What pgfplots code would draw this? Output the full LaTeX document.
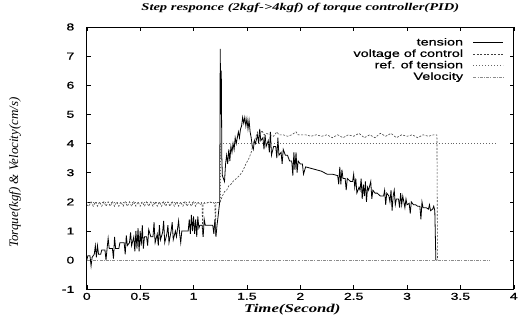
\documentclass[border=0pt]{standalone}
\usepackage{pgfplots}
\pgfplotsset{compat=1.18}
\usepackage{fontspec}
\setmainfont[FakeStretch=1.4]{Liberation Serif}
\setsansfont[FakeStretch=1.4,FakeBold=0.8]{Liberation Sans}
\newfontfamily\ylabfont{Liberation Serif}

\pgfplotstableread{
t v
0.00 0.00
0.01 0.15
0.03 0.15
0.04 -0.20
0.05 0.10
0.07 0.20
0.08 0.50
0.09 0.10
0.10 0.50
0.11 0.20
0.13 0.20
0.14 0.35
0.17 0.35
0.18 0.00
0.19 0.40
0.20 0.75
0.21 0.40
0.24 0.40
0.25 0.05
0.26 0.80
0.27 0.40
0.30 0.40
0.31 0.60
0.35 0.60
0.36 0.20
0.37 0.85
0.38 0.50
0.40 0.60
0.41 0.95
0.42 0.50
0.44 0.80
0.45 0.30
0.46 1.00
0.47 0.40
0.48 1.10
0.49 0.30
0.50 1.00
0.51 0.50
0.52 1.20
0.53 0.40
0.54 0.80
0.56 0.80
0.57 0.50
0.58 1.05
0.60 0.80
0.62 0.80
0.63 1.30
0.64 0.60
0.66 0.90
0.67 0.50
0.68 1.20
0.69 0.70
0.71 0.95
0.72 1.35
0.73 0.60
0.75 0.90
0.76 1.20
0.77 0.60
0.79 1.00
0.80 1.30
0.81 0.70
0.83 1.00
0.84 0.80
0.86 1.35
0.87 0.90
0.88 0.60
0.89 1.00
0.95 1.00
0.96 1.40
0.97 0.90
0.98 1.55
0.99 1.00
1.00 1.50
1.01 0.90
1.02 1.40
1.03 0.80
1.04 1.50
1.05 1.10
1.06 1.20
1.08 1.20
1.09 0.80
1.10 1.40
1.11 1.20
1.18 1.20
1.19 0.90
1.20 1.40
1.21 0.80
1.22 1.20
1.23 1.50
1.245 2.00
1.25 7.25
1.255 5.00
1.26 6.50
1.265 3.50
1.27 2.90
1.29 2.70
1.30 3.30
1.31 3.60
1.32 3.30
1.33 3.80
1.34 3.40
1.35 3.90
1.36 3.70
1.37 4.00
1.38 3.80
1.39 4.20
1.40 4.00
1.42 4.40
1.43 4.20
1.44 4.50
1.45 4.60
1.46 4.90
1.47 4.70
1.48 4.90
1.49 4.60
1.50 4.85
1.51 4.50
1.52 4.80
1.53 4.40
1.54 4.20
1.55 3.90
1.56 3.80
1.57 4.10
1.58 4.00
1.60 4.30
1.61 4.00
1.62 4.50
1.63 4.10
1.65 4.20
1.66 3.80
1.67 4.30
1.68 3.90
1.70 4.10
1.71 3.70
1.72 4.40
1.73 3.60
1.75 3.90
1.77 3.90
1.78 3.50
1.79 4.20
1.80 3.60
1.82 3.70
1.83 3.30
1.84 3.80
1.86 3.60
1.88 3.60
1.90 3.40
1.92 3.40
1.93 2.90
1.94 3.70
1.95 3.10
1.96 3.70
1.97 3.00
1.98 3.40
2.00 3.30
2.02 3.30
2.03 2.95
2.05 3.20
2.10 3.15
2.15 3.10
2.20 3.05
2.25 2.95
2.30 2.95
2.35 2.90
2.36 2.60
2.37 3.20
2.38 2.60
2.39 3.10
2.40 2.80
2.42 2.80
2.43 2.40
2.44 2.80
2.47 2.70
2.49 2.70
2.50 2.95
2.51 2.50
2.52 2.80
2.53 2.30
2.55 2.50
2.56 2.40
2.57 2.80
2.58 2.10
2.59 2.60
2.60 2.20
2.61 2.70
2.62 2.00
2.63 2.50
2.64 2.40
2.66 2.70
2.67 2.10
2.68 2.40
2.70 2.30
2.72 2.30
2.75 2.20
2.78 2.20
2.79 2.40
2.80 1.90
2.81 2.30
2.83 2.20
2.84 2.00
2.85 2.40
2.86 1.70
2.87 2.20
2.88 2.40
2.89 1.90
2.90 2.10
2.92 2.10
2.93 1.80
2.94 2.30
2.95 1.90
2.96 2.20
2.98 1.80
2.99 2.10
3.00 1.90
3.02 1.95
3.03 1.60
3.04 2.00
3.06 1.90
3.08 1.90
3.10 1.85
3.12 1.85
3.13 1.40
3.14 2.00
3.15 1.80
3.18 1.80
3.20 1.75
3.21 1.90
3.22 1.70
3.24 1.75
3.25 1.85
3.26 1.70
3.27 0.00
}\tension

\pgfplotstableread{
t v
0.00 1.90
0.02 1.85
0.04 2.00
0.06 1.85
0.08 2.00
0.10 1.85
0.12 2.00
0.14 1.85
0.16 2.00
0.18 1.85
0.20 2.00
0.22 1.85
0.24 2.00
0.26 1.85
0.28 2.00
0.30 1.85
0.32 2.00
0.34 1.85
0.36 2.00
0.38 1.85
0.40 2.00
0.42 1.85
0.44 2.00
0.46 1.85
0.48 2.00
0.50 1.85
0.52 2.00
0.54 1.85
0.56 2.00
0.58 1.85
0.60 2.00
0.62 1.85
0.64 2.00
0.66 1.85
0.68 2.00
0.70 1.85
0.72 2.00
0.74 1.85
0.76 2.00
0.78 1.85
0.80 2.00
0.82 1.85
0.84 2.00
0.86 1.85
0.88 2.00
0.90 1.85
0.92 2.00
0.94 1.85
0.96 2.00
0.98 1.85
1.00 2.00
1.02 1.85
1.04 2.00
1.06 1.90
1.08 1.95
1.085 0.85
1.09 1.95
1.12 1.95
1.15 2.00
1.20 1.95
1.205 0.85
1.21 1.95
1.24 2.00
1.25 2.00
1.27 2.20
1.29 2.35
1.31 2.40
1.33 2.55
1.35 2.60
1.37 2.70
1.40 2.80
1.43 2.90
1.46 3.05
1.49 3.30
1.52 3.50
1.54 3.70
1.56 4.00
1.58 4.20
1.60 4.40
1.62 4.30
1.64 4.45
1.66 4.30
1.68 4.35
1.72 4.30
1.75 4.25
1.78 4.40
1.80 4.30
1.84 4.30
1.88 4.25
1.92 4.30
1.96 4.40
1.98 4.30
2.05 4.30
2.10 4.25
2.15 4.30
2.20 4.25
2.25 4.30
2.30 4.20
2.35 4.30
2.40 4.20
2.45 4.30
2.50 4.25
2.55 4.35
2.60 4.20
2.65 4.30
2.70 4.20
2.75 4.35
2.80 4.25
2.85 4.35
2.90 4.20
2.95 4.30
3.00 4.25
3.05 4.30
3.10 4.20
3.15 4.30
3.20 4.25
3.25 4.30
3.28 4.30
3.285 0.00
}\voltage

\pgfplotstableread{
t v
0.00 2.00
1.25 2.00
1.25 4.00
3.85 4.00
}\reftension

\pgfplotstableread{
t v
0.00 0.00
3.78 0.00
}\velocity

\begin{document}
\begin{tikzpicture}
\begin{axis}[
  scale only axis,
  width=428pt, height=263pt,
  xmin=0, xmax=4, ymin=-1, ymax=8,
  xtick={0,0.5,...,4}, ytick={-1,0,...,8},
  tick align=inside,
  major tick length=4pt,
  axis line style={black, line width=0.7pt},
  tick style={black, line width=0.5pt},
  /pgf/number format/assume math mode=true,
  ticklabel style={font=\sffamily\fontsize{10}{10}\selectfont},
  yticklabel style={xshift=-9pt},
  title={\bfseries\itshape Step responce (2kgf-{}>4kgf) of torque controller(PID)},
  title style={at={(0.5,1)}, anchor=base, yshift=10pt, font=\fontsize{10.4}{12}\selectfont},
  xlabel={\bfseries\itshape Time(Second)},
  xlabel style={at={(0.5,0)}, anchor=base, yshift=-23pt, xshift=-8pt, font=\fontsize{12}{12}\selectfont},
  ylabel={\ylabfont\itshape Torque(kgf) \& Velocity(cm/s)},
  ylabel style={at={(axis description cs:-0.168,0.445)}, anchor=center, rotate=0, font=\fontsize{13}{14}\selectfont},
  legend plot pos=right,
  legend cell align=right,
  legend style={draw=none, fill=none, at={(0.977,0.966)}, anchor=north east,
    font=\sffamily\fontsize{10.3}{10.3}\selectfont, row sep=-1.5pt, inner sep=0pt},
  legend image code/.code={\draw[#1] (0pt,0pt) -- (30pt,0pt);},
]
\addplot[black, line width=0.8pt] table[x=t,y=v] {\tension};
\addlegendentry{tension\rule{8pt}{0pt}}
\addplot[black!75, line width=0.6pt, dash pattern=on 2pt off 1.5pt] table[x=t,y=v] {\voltage};
\addlegendentry{voltage of control\rule{8pt}{0pt}}
\addplot[black!60, line width=0.6pt, dash pattern=on 0.8pt off 2.2pt] table[x=t,y=v] {\reftension};
\addlegendentry{ref. of tension\rule{8pt}{0pt}}
\addplot[black!45, line width=0.6pt, dash pattern=on 3pt off 1.2pt on 1pt off 1.2pt] table[x=t,y=v] {\velocity};
\addlegendentry{Velocity\rule{8pt}{0pt}}
\end{axis}
\path (current axis.south west) ++(-87pt,-34pt) rectangle ++(521pt,324pt);
\end{tikzpicture}
\end{document}
